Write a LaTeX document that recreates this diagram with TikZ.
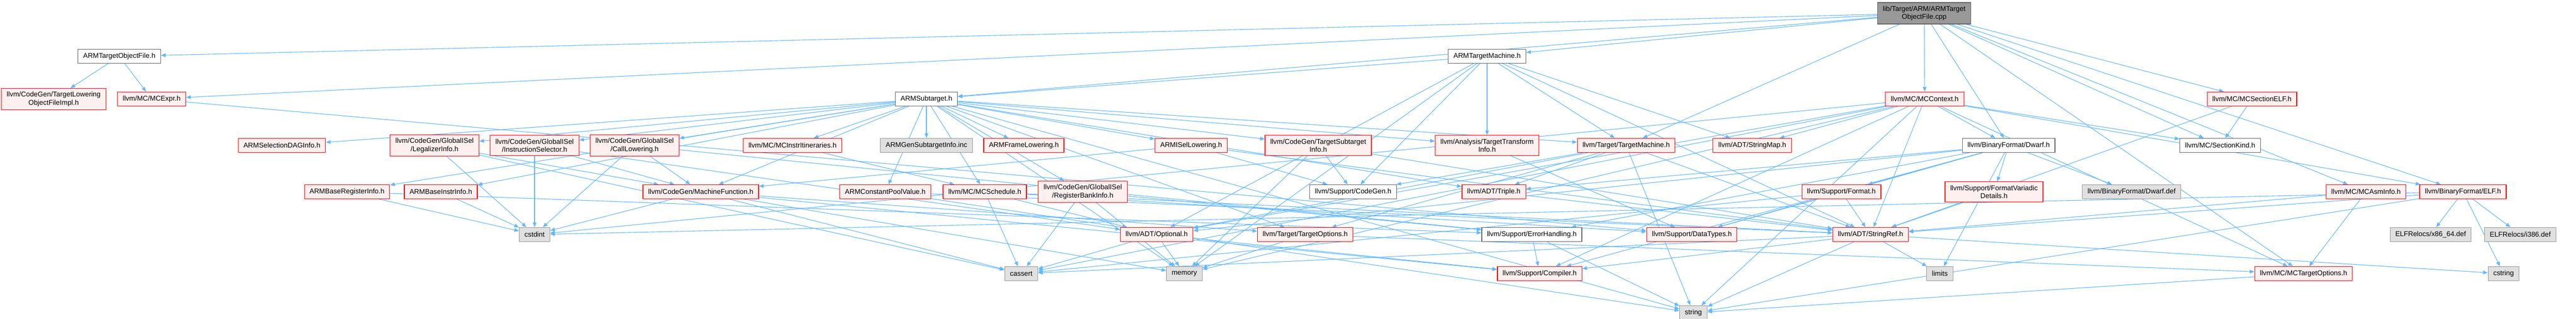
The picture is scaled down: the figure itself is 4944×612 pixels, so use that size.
\documentclass[tikz,border=0pt]{standalone}
\usepackage{fontspec}
\setmainfont{Liberation Sans}
\usetikzlibrary{arrows.meta,backgrounds}
\definecolor{depblue}{HTML}{63B8FF}
\definecolor{truncred}{HTML}{FF0000}
\definecolor{truncfill}{HTML}{FFF0F0}
\definecolor{sysfill}{HTML}{E0E0E0}
\definecolor{sysline}{HTML}{999999}
\definecolor{plainline}{HTML}{666666}

\begin{document}
\begin{tikzpicture}[x=1pt,y=-1pt,
	box/.style={draw,line width=1.2pt,align=center,inner xsep=10pt,inner ysep=6.5pt,minimum height=27pt,font=\fontsize{13.4}{15.4}\selectfont},
	trunc/.style={box,draw=truncred,fill=truncfill},
	plain/.style={box,draw=plainline,fill=white},
	sys/.style={box,draw=sysline,fill=sysfill},
	top/.style={box,draw=plainline,fill=sysline},
	dep/.style={draw=depblue,line width=1.1pt,-{Triangle[length=9pt,width=7pt]}}]
	\useasboundingbox (0,0) rectangle (4944,612);
	\node[top] (root) at (3693,25.5) {lib/Target/ARM/ARMTarget\\ObjectFile.cpp};
	\node[plain] (tof) at (229,108) {ARMTargetObjectFile.h};
	\node[plain] (atm) at (2854,108) {ARMTargetMachine.h};
	\node[trunc] (tlof) at (103,190) {llvm/CodeGen/TargetLowering\\ObjectFileImpl.h};
	\node[trunc] (mcexpr) at (291,190) {llvm/MC/MCExpr.h};
	\node[plain] (sub) at (1778,190) {ARMSubtarget.h};
	\node[trunc] (mcctx) at (3694,190) {llvm/MC/MCContext.h};
	\node[trunc] (secelf) at (4322,190) {llvm/MC/MCSectionELF.h};
	\node[trunc] (sdag) at (541,279) {ARMSelectionDAGInfo.h};
	\node[trunc] (legal) at (834,279) {llvm/CodeGen/GlobalISel\\/LegalizerInfo.h};
	\node[trunc] (isel) at (1026,279) {llvm/CodeGen/GlobalISel\\/InstructionSelector.h};
	\node[trunc] (call) at (1218,279) {llvm/CodeGen/GlobalISel\\/CallLowering.h};
	\node[trunc] (itin) at (1521,279) {llvm/MC/MCInstrItineraries.h};
	\node[sys] (gen) at (1778,279) {ARMGenSubtargetInfo.inc};
	\node[trunc] (frame) at (1965,279) {ARMFrameLowering.h};
	\node[trunc] (isl) at (2286,279) {ARMISelLowering.h};
	\node[trunc] (tsi) at (2530,279) {llvm/CodeGen/TargetSubtarget\\Info.h};
	\node[trunc] (tti) at (2854,279) {llvm/Analysis/TargetTransform\\Info.h};
	\node[trunc] (tm) at (3121,279) {llvm/Target/TargetMachine.h};
	\node[trunc] (smap) at (3363,279) {llvm/ADT/StringMap.h};
	\node[plain] (dwarf) at (3855,279) {llvm/BinaryFormat/Dwarf.h};
	\node[plain] (skind) at (4261,279) {llvm/MC/SectionKind.h};
	\node[trunc] (breg) at (666,368) {ARMBaseRegisterInfo.h};
	\node[trunc] (binstr) at (846,368) {ARMBaseInstrInfo.h};
	\node[trunc] (mf) at (1345,368) {llvm/CodeGen/MachineFunction.h};
	\node[trunc] (cpv) at (1699,368) {ARMConstantPoolValue.h};
	\node[trunc] (sched) at (1890,368) {llvm/MC/MCSchedule.h};
	\node[trunc] (rbi) at (2078,368) {llvm/CodeGen/GlobalISel\\/RegisterBankInfo.h};
	\node[plain] (cg) at (2597,368) {llvm/Support/CodeGen.h};
	\node[trunc] (triple) at (2867,368) {llvm/ADT/Triple.h};
	\node[trunc] (fmt) at (3534,368) {llvm/Support/Format.h};
	\node[trunc] (fvd) at (3827,368) {llvm/Support/FormatVariadic\\Details.h};
	\node[sys] (ddef) at (4091,368) {llvm/BinaryFormat/Dwarf.def};
	\node[trunc] (asm) at (4541,368) {llvm/MC/MCAsmInfo.h};
	\node[trunc] (elf) at (4727,368) {llvm/BinaryFormat/ELF.h};
	\node[sys] (cstdint) at (1026,450) {cstdint};
	\node[trunc] (opt) at (2220,450) {llvm/ADT/Optional.h};
	\node[trunc] (topt) at (2505,450) {llvm/Target/TargetOptions.h};
	\node[plain] (err) at (2940,450) {llvm/Support/ErrorHandling.h};
	\node[trunc] (dtypes) at (3247,450) {llvm/Support/DataTypes.h};
	\node[trunc] (sref) at (3590,450) {llvm/ADT/StringRef.h};
	\node[sys] (x86) at (4665,450) {ELFRelocs/x86\_64.def};
	\node[sys] (i386) at (4837,450) {ELFRelocs/i386.def};
	\node[sys] (cassert) at (1960,525) {cassert};
	\node[sys] (memory) at (2273,525) {memory};
	\node[trunc] (comp) at (2955,525) {llvm/Support/Compiler.h};
	\node[sys] (limits) at (3723,525) {limits};
	\node[trunc] (mcto) at (4421,525) {llvm/MC/MCTargetOptions.h};
	\node[sys] (cstring) at (4805,525) {cstring};
	\node[sys] (string) at (3250,600) {string};
	\begin{scope}[on background layer]
	\foreach \a/\b in {root/tof,root/sub,root/atm,root/dwarf,root/elf,root/asm,root/mcctx,root/mcexpr,root/secelf,root/mcto,root/skind,root/tm,
		tof/tlof,tof/mcexpr,mcexpr/dtypes,
		atm/sub,atm/opt,atm/smap,atm/sref,atm/tti,atm/cg,atm/tm,atm/memory,
		sub/binstr,sub/breg,sub/cpv,sub/frame,sub/isl,sub/sdag,sub/triple,sub/tti,sub/call,sub/isel,sub/legal,sub/rbi,sub/mf,sub/tsi,sub/itin,sub/sched,sub/tm,sub/topt,sub/memory,sub/string,sub/gen,
		mcctx/opt,mcctx/smap,mcctx/sref,mcctx/dwarf,mcctx/elf,mcctx/skind,mcctx/comp,mcctx/cassert,mcctx/cstdint,mcctx/memory,mcctx/string,mcctx/mcto,
		secelf/skind,secelf/sref,
		legal/cassert,legal/cstdint,legal/mf,isel/opt,isel/mf,isel/cstdint,call/err,call/cstdint,call/mf,itin/sched,
		isl/sref,isl/mf,isl/cg,tsi/sref,tsi/cg,tsi/memory,tti/dtypes,
		tm/opt,tm/sref,tm/triple,tm/cg,tm/topt,tm/string,
		dwarf/opt,dwarf/comp,dwarf/dtypes,dwarf/err,dwarf/fmt,dwarf/fvd,dwarf/triple,dwarf/ddef,dwarf/limits,
		breg/cstdint,breg/err,binstr/cstdint,
		mf/comp,mf/topt,mf/cassert,mf/cstdint,mf/memory,
		cpv/sref,cpv/string,sched/opt,sched/sref,sched/dtypes,sched/cassert,
		rbi/err,rbi/cassert,rbi/memory,triple/sref,
		fmt/sref,fmt/dtypes,fmt/cassert,fvd/sref,asm/sref,asm/mcto,
		elf/sref,elf/cstdint,elf/cstring,elf/x86,elf/i386,elf/string,
		opt/comp,opt/cassert,opt/memory,topt/mcto,topt/memory,err/comp,err/string,
		sref/comp,sref/cassert,sref/cstring,sref/limits,sref/string,mcto/string}
		\draw[dep] (\a) -- (\b);
	\end{scope}
\end{tikzpicture}
\end{document}
